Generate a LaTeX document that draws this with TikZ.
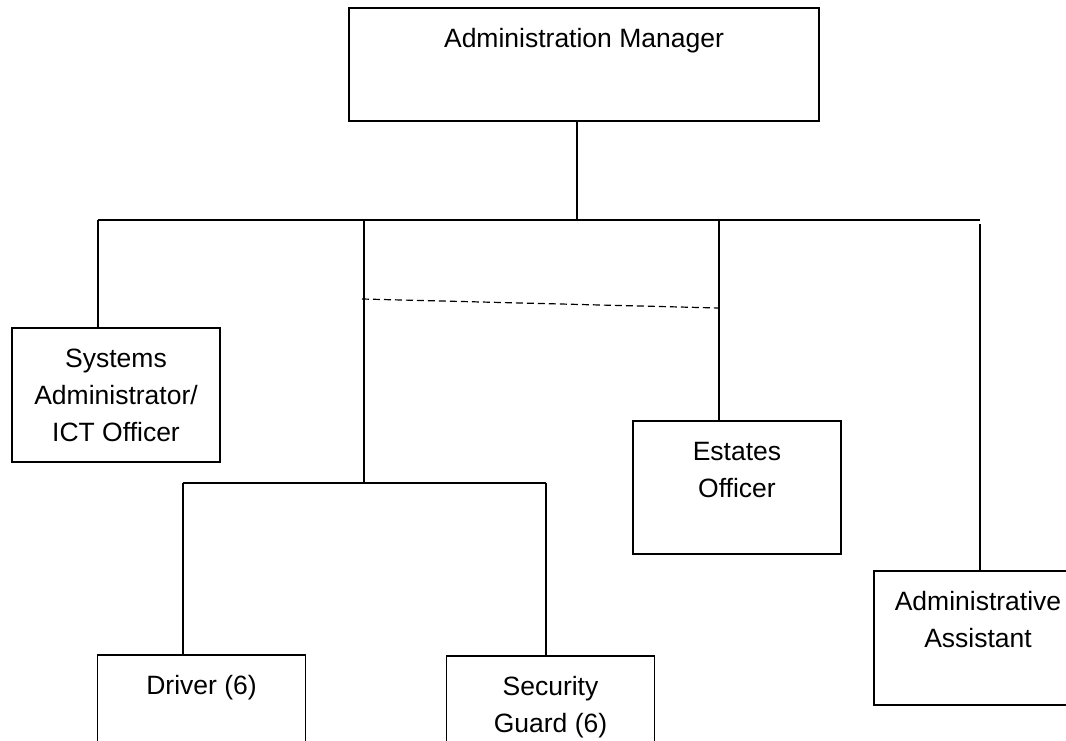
\documentclass[tikz,border=0pt]{standalone}
\usepackage{fontspec}
\setmainfont{Liberation Sans}
\tikzset{
    post/.style={draw, line width=1.6pt, align=center, inner sep=0pt, anchor=north,
        minimum width=208pt, text height=40pt, text depth=94pt,
        font=\fontsize{26.5}{37}\selectfont},
    two/.style={text height=77pt, text depth=57pt},
    link/.style={line width=1.2pt}
}
\begin{document}
\begin{tikzpicture}[x=1pt, y=-1pt]
                \useasboundingbox (0,0) rectangle (1066,741);
                \node(mgr) [post, minimum width=470pt, text depth=73pt] at (584,7) {Administration Manager};
                \node(sys) [post, text height=114pt, text depth=20pt] at (116,327) {Systems\\Administrator/\\ICT Officer};
                \node(est) [post, two, text depth=56pt] at (737,420) {Estates\\Officer};
                \node(asst) [post, two] at (978,570) {Administrative\\Assistant};
                \node(drv) [post] at (201.5,654) {Driver (6)};
                \node(sec) [post, two] at (550.5,655) {Security\\Guard (6)};

                \coordinate(top) at (577,220);
                \coordinate(l) at (98,220);
                \coordinate(m) at (364,220);
                \coordinate(e) at (719,220);
                \coordinate(r) at (980,220);
                \coordinate(s) at (364,483);
                \coordinate(sl) at (183,483);
                \coordinate(sr) at (546,483);
                \coordinate(da) at (362,299);
                \coordinate(db) at (719,308);

                \draw[link](mgr.south -| top) -- (top);
                \draw[link](l) -- (r);
                \draw[link](l) -- (l |- sys.north);
                \draw[link](m) -- (s);
                \draw[link](e) -- (e |- est.north);
                \draw[link]([yshift=-4pt]r) -- (r |- asst.north);
                \draw[link, dash pattern=on 7pt off 4pt](da) -- (db);
                \draw[link](sl) -- (sr);
                \draw[link](sl) -- (sl |- drv.north);
                \draw[link](sr) -- (sr |- sec.north);
			\end{tikzpicture}
\end{document}
